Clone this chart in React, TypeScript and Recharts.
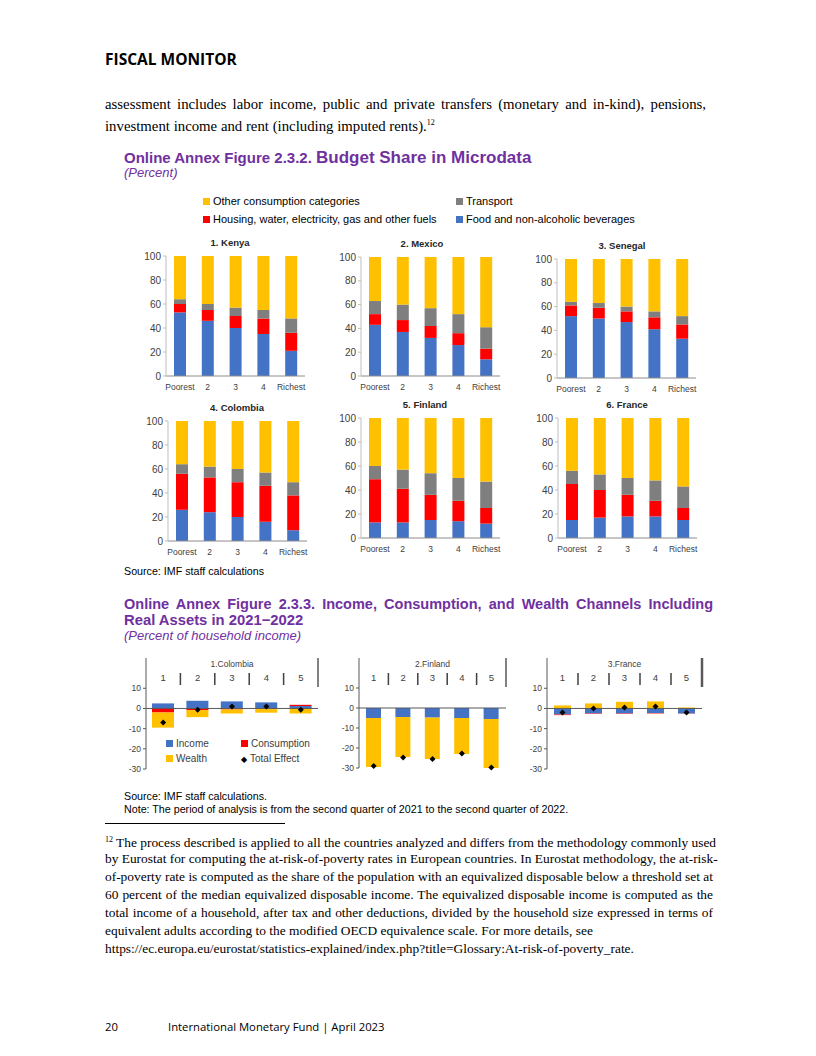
import { BarChart, Bar, XAxis, YAxis, ComposedChart, Line, ReferenceLine } from "recharts";

// colours used across both figures
const BLUE = "#4472C4";
const RED = "#FF0000";
const GRAY = "#7F7F7F";
const YELLOW = "#FFC000";
const PURPLE = "#7030A0";

// ---- Figure 2.3.2 data (percent of budget, by quintile) ----
const quintiles = ["Poorest", "2", "3", "4", "Richest"];

const kenyaFood = [53, 46, 40, 35, 21];
const kenyaHousing = [7, 9, 10, 13, 15];
const kenyaTransport = [4, 5, 7, 7, 12];
const kenyaOther = [36, 40, 43, 45, 52];

const mexicoFood = [43, 37, 32, 26, 14];
const mexicoHousing = [9, 10, 10, 10, 9];
const mexicoTransport = [11, 13, 15, 16, 18];
const mexicoOther = [37, 40, 43, 48, 59];

const senegalFood = [52, 50, 47, 41, 33];
const senegalHousing = [9, 9, 9, 10, 12];
const senegalTransport = [3, 4, 4, 5, 7];
const senegalOther = [36, 37, 40, 44, 48];

const colombiaFood = [26, 24, 20, 16, 9];
const colombiaHousing = [30, 29, 29, 30, 29];
const colombiaTransport = [8, 9, 11, 11, 11];
const colombiaOther = [36, 38, 40, 43, 51];

const finlandFood = [13, 13, 15, 14, 12];
const finlandHousing = [36, 28, 21, 17, 13];
const finlandTransport = [11, 16, 18, 19, 22];
const finlandOther = [40, 43, 46, 50, 53];

const franceFood = [15, 17, 18, 18, 15];
const franceHousing = [30, 23, 18, 13, 10];
const franceTransport = [11, 13, 14, 17, 18];
const franceOther = [44, 47, 50, 52, 57];

// ---- Figure 2.3.3 data (percent of household income, by quintile) ----
const bins = ["1", "2", "3", "4", "5"];

const colIncome = [2.5, 3.8, 3.5, 3.0, 1.2];
const colConsumption = [-2.0, -0.8, -0.5, -0.3, 0.6];
const colWealth = [-7.5, -3.5, -2.0, -1.8, -2.5];
const colTotal = [-7.0, -0.7, 1.0, 1.0, -0.7];

const finIncome = [-5.0, -4.5, -4.8, -5.0, -5.5];
const finConsumption = [0, 0, 0, 0, 0];
const finWealth = [-24.5, -20.0, -20.7, -18.0, -24.5];
const finTotal = [-29.0, -24.8, -25.5, -22.7, -29.8];

const fraIncome = [-3.0, -2.5, -2.5, -2.3, -2.5];
const fraConsumption = [-0.3, -0.2, -0.2, -0.2, -0.1];
const fraWealth = [1.5, 2.5, 3.3, 3.5, 0.5];
const fraTotal = [-2.0, 0.0, 0.5, 1.0, -2.0];

const SANS = "'Liberation Sans', Arial, sans-serif";
const SERIF = "'Liberation Serif', 'Times New Roman', serif";
const OPEN = "'Open Sans', sans-serif";

function BudgetPanel(props: any) {
  const { title, titleX, food, housing, transport, other, x0, x1, top, bottom } = props;
  const padTop = 8;
  const axisW = 30;
  const padRight = 6;
  const xAxisH = 20;
  const rows = quintiles.map((q, i) => ({
    q,
    food: food[i],
    housing: housing[i],
    transport: transport[i],
    other: other[i],
  }));
  return (
    <>
      <div
        style={{
          position: "absolute", left: titleX - 60, width: 120, top: top - 19,
          textAlign: "center", fontFamily: SANS, fontWeight: "bold", fontSize: 9.5, color: "#262626",
        }}
      >
        {title}
      </div>
      <div style={{ position: "absolute", left: x0 - axisW, top: top - padTop }}>
        <BarChart
          width={x1 - x0 + axisW + padRight}
          height={bottom - top + padTop + xAxisH}
          data={rows}
          margin={{ top: padTop, right: padRight, left: 0, bottom: 0 }}
          barSize={12}
        >
          <XAxis
            dataKey="q" interval={0} height={xAxisH} tickLine={false} tickMargin={2}
            axisLine={{ stroke: "#8c8c8c" }} tick={{ fontSize: 8.5, fill: "#404040", fontFamily: SANS }}
          />
          <YAxis
            domain={[0, 100]} ticks={[0, 20, 40, 60, 80, 100]} interval={0} width={axisW} tickSize={3}
            axisLine={{ stroke: "#bfbfbf" }} tickLine={{ stroke: "#bfbfbf" }}
            tick={{ fontSize: 10, fill: "#404040", fontFamily: SANS }}
          />
          <Bar dataKey="food" stackId="s" fill={BLUE} isAnimationActive={false} />
          <Bar dataKey="housing" stackId="s" fill={RED} isAnimationActive={false} />
          <Bar dataKey="transport" stackId="s" fill={GRAY} isAnimationActive={false} />
          <Bar dataKey="other" stackId="s" fill={YELLOW} isAnimationActive={false} />
        </BarChart>
      </div>
    </>
  );
}

function Diamond(props: any) {
  const { cx, cy } = props;
  if (cx == null || cy == null) return null;
  return <path d={`M${cx},${cy - 3}L${cx + 3},${cy}L${cx},${cy + 3}L${cx - 3},${cy}Z`} fill="#000" />;
}

function ChannelPanel(props: any) {
  const { title, income, consumption, wealth, total, x0, x1, top, bottom, barSize, thick } = props;
  const padTop = 4;
  const axisH = 1;
  const plotTop = padTop + axisH;
  const axisW = 28;
  const padRight = 4;
  const band = (x1 - x0) / bins.length;
  const rows = bins.map((b, i) => ({
    b,
    income: income[i],
    consumption: consumption[i],
    wealth: wealth[i],
    total: total[i],
  }));

  const binTick = (p: any) => {
    const { x, index, payload } = p;
    const edge = x + band / 2;
    const last = index === bins.length - 1;
    return (
      <g>
        <text
          x={x} y={plotTop + 23} textAnchor="middle" fontSize={9.5} fill="#404040" fontFamily={SANS}
        >
          {payload.value}
        </text>
        {last ? (
          <line x1={edge} x2={edge} y1={plotTop} y2={plotTop + 29} stroke="#595959" strokeWidth={thick ? 2.5 : 1.5} />
        ) : (
          <line x1={edge} x2={edge} y1={plotTop + 15} y2={plotTop + 27} stroke="#404040" strokeWidth={1.5} />
        )}
      </g>
    );
  };

  return (
    <>
      <div
        style={{
          position: "absolute", left: x0, width: x1 - x0, top: top + 1,
          textAlign: "center", fontFamily: SANS, fontSize: 8.5, color: "#404040",
        }}
      >
        {title}
      </div>
      <div style={{ position: "absolute", left: x0 - axisW, top: top - plotTop }}>
        <ComposedChart
          width={x1 - x0 + axisW + padRight}
          height={bottom - top + plotTop + 8}
          data={rows}
          stackOffset="sign"
          margin={{ top: padTop, right: padRight, left: 0, bottom: 8 }}
          barSize={barSize}
        >
          <XAxis
            dataKey="b" orientation="top" height={axisH} interval={0}
            axisLine={false} tickLine={false} tick={binTick}
          />
          <YAxis
            domain={[-30, 25]} ticks={[-30, -20, -10, 0, 10]} interval={0} width={axisW} tickSize={3}
            axisLine={{ stroke: "#595959" }} tickLine={{ stroke: "#595959" }}
            tick={{ fontSize: 8.5, fill: "#404040", fontFamily: SANS }}
          />
          <ReferenceLine y={0} stroke="#595959" />
          <Bar dataKey="income" stackId="c" fill={BLUE} isAnimationActive={false} />
          <Bar dataKey="consumption" stackId="c" fill={RED} isAnimationActive={false} />
          <Bar dataKey="wealth" stackId="c" fill={YELLOW} isAnimationActive={false} />
          <Line
            dataKey="total" stroke="none" strokeWidth={0} dot={<Diamond />}
            activeDot={false} isAnimationActive={false}
          />
        </ComposedChart>
      </div>
    </>
  );
}

function Swatch({ color }: { color: string }) {
  return <span style={{ display: "inline-block", width: 7, height: 7, background: color, marginRight: 3, verticalAlign: "middle", position: "relative", top: -1 }} />;
}

function TextLine(props: any) {
  const { y, x = 105, width, children, size = 14, family = SERIF, justify, style } = props;
  return (
    <div
      style={{
        position: "absolute", left: x, top: y - 10, height: 20, lineHeight: "20px",
        width: width, fontFamily: family, fontSize: size, whiteSpace: "nowrap",
        textAlign: justify ? "justify" : "left", textAlignLast: justify ? "justify" : "left",
        color: "#000", ...style,
      }}
    >
      {children}
    </div>
  );
}

export default function App() {
  const fnLines = [
    "by Eurostat for computing the at-risk-of-poverty rates in European countries. In Eurostat methodology, the at-risk-",
    "of-poverty rate is computed as the share of the population with an equivalized disposable below a threshold set at",
    "60 percent of the median equivalized disposable income. The equivalized disposable income is computed as the",
    "total income of a household, after tax and other deductions, divided by the household size expressed in terms of",
  ];
  return (
    <div style={{ position: "absolute", left: 0, top: 0, width: 816, height: 1056, background: "#fff", overflow: "hidden" }}>
      <TextLine y={59} family={OPEN} size={15.5} style={{ fontWeight: "bold" }}>FISCAL MONITOR</TextLine>

      <TextLine y={104} width={601} justify size={14.8}>
        assessment includes labor income, public and private transfers (monetary and in-kind), pensions,
      </TextLine>
      <TextLine y={123} size={14.8}>
        investment income and rent (including imputed rents).<sup style={{ fontSize: 8 }}>12</sup>
      </TextLine>

      {/* Figure 2.3.2 */}
      <TextLine y={158} x={124} family={SANS} style={{ color: PURPLE, fontWeight: "bold" }}>
        <span style={{ fontSize: 15 }}>Online Annex Figure 2.3.2. </span>
        <span style={{ fontSize: 17 }}>Budget Share in Microdata</span>
      </TextLine>
      <TextLine y={173} x={124} family={SANS} size={13} style={{ color: PURPLE, fontStyle: "italic" }}>(Percent)</TextLine>

      <TextLine y={201} x={203} family={SANS} size={11}><Swatch color={YELLOW} />Other consumption categories</TextLine>
      <TextLine y={201} x={456} family={SANS} size={11}><Swatch color={GRAY} />Transport</TextLine>
      <TextLine y={219} x={203} family={SANS} size={11}><Swatch color={RED} />Housing, water, electricity, gas and other fuels</TextLine>
      <TextLine y={219} x={456} family={SANS} size={11}><Swatch color={BLUE} />Food and non-alcoholic beverages</TextLine>

      <BudgetPanel title="1. Kenya" titleX={230} food={kenyaFood} housing={kenyaHousing} transport={kenyaTransport} other={kenyaOther} x0={166} x1={305} top={256} bottom={376} />
      <BudgetPanel title="2. Mexico" titleX={422} food={mexicoFood} housing={mexicoHousing} transport={mexicoTransport} other={mexicoOther} x0={361} x1={500} top={257} bottom={376} />
      <BudgetPanel title="3. Senegal" titleX={622} food={senegalFood} housing={senegalHousing} transport={senegalTransport} other={senegalOther} x0={557} x1={696} top={259} bottom={378} />
      <BudgetPanel title="4. Colombia" titleX={237} food={colombiaFood} housing={colombiaHousing} transport={colombiaTransport} other={colombiaOther} x0={168} x1={307} top={421} bottom={541} />
      <BudgetPanel title="5. Finland" titleX={425} food={finlandFood} housing={finlandHousing} transport={finlandTransport} other={finlandOther} x0={361} x1={500} top={418} bottom={538} />
      <BudgetPanel title="6. France" titleX={627} food={franceFood} housing={franceHousing} transport={franceTransport} other={franceOther} x0={558} x1={697} top={418} bottom={538} />

      <TextLine y={571} x={124} family={SANS} size={10.7}>Source: IMF staff calculations</TextLine>

      {/* Figure 2.3.3 */}
      <TextLine y={604} x={124} width={589} justify family={SANS} size={14.5} style={{ color: PURPLE, fontWeight: "bold" }}>
        Online Annex Figure 2.3.3. Income, Consumption, and Wealth Channels Including
      </TextLine>
      <TextLine y={620} x={124} family={SANS} size={14.8} style={{ color: PURPLE, fontWeight: "bold" }}>
        Real Assets in 2021−2022
      </TextLine>
      <TextLine y={636} x={124} family={SANS} size={13} style={{ color: PURPLE, fontStyle: "italic" }}>
        (Percent of household income)
      </TextLine>

      <ChannelPanel title="1.Colombia" income={colIncome} consumption={colConsumption} wealth={colWealth} total={colTotal} x0={146} x1={318} top={658} bottom={769} barSize={22} />
      <ChannelPanel title="2.Finland" income={finIncome} consumption={finConsumption} wealth={finWealth} total={finTotal} x0={359} x1={506} top={658} bottom={768} barSize={15} />
      <ChannelPanel title="3.France" income={fraIncome} consumption={fraConsumption} wealth={fraWealth} total={fraTotal} x0={547} x1={702} top={658} bottom={769} barSize={17} thick />

      <TextLine y={744} x={166} family={SANS} size={10} style={{ color: "#404040" }}><Swatch color={BLUE} />Income</TextLine>
      <TextLine y={744} x={241} family={SANS} size={10} style={{ color: "#404040" }}><Swatch color={RED} />Consumption</TextLine>
      <TextLine y={759} x={166} family={SANS} size={10} style={{ color: "#404040" }}><Swatch color={YELLOW} />Wealth</TextLine>
      <TextLine y={759} x={241} family={SANS} size={10} style={{ color: "#404040" }}>
        <span style={{ fontSize: 8, marginRight: 3, color: "#000" }}>◆</span>Total Effect
      </TextLine>

      <TextLine y={796} x={124} family={SANS} size={10.7}>Source: IMF staff calculations.</TextLine>
      <TextLine y={809} x={124} family={SANS} size={10.7}>Note: The period of analysis is from the second quarter of 2021 to the second quarter of 2022.</TextLine>

      <div style={{ position: "absolute", left: 105, top: 823, width: 180, height: 1, background: "#000" }} />

      <TextLine y={840} width={608} justify size={13.4}>
        <sup style={{ fontSize: 8 }}>12</sup> The process described is applied to all the countries analyzed and differs from the methodology commonly used
      </TextLine>
      {fnLines.map((t, i) => (
        <TextLine key={i} y={858.5 + i * 18} width={608} justify size={13.4}>{t}</TextLine>
      ))}
      <TextLine y={930.5} size={13.4}>equivalent adults according to the modified OECD equivalence scale. For more details, see</TextLine>
      <TextLine y={948.5} size={13.4}>https://ec.europa.eu/eurostat/statistics-explained/index.php?title=Glossary:At-risk-of-poverty_rate.</TextLine>

      <TextLine y={1027} family={OPEN} size={11.3}>20</TextLine>
      <TextLine y={1027} x={168} family={OPEN} size={11.3}>International Monetary Fund | April 2023</TextLine>
    </div>
  );
}
